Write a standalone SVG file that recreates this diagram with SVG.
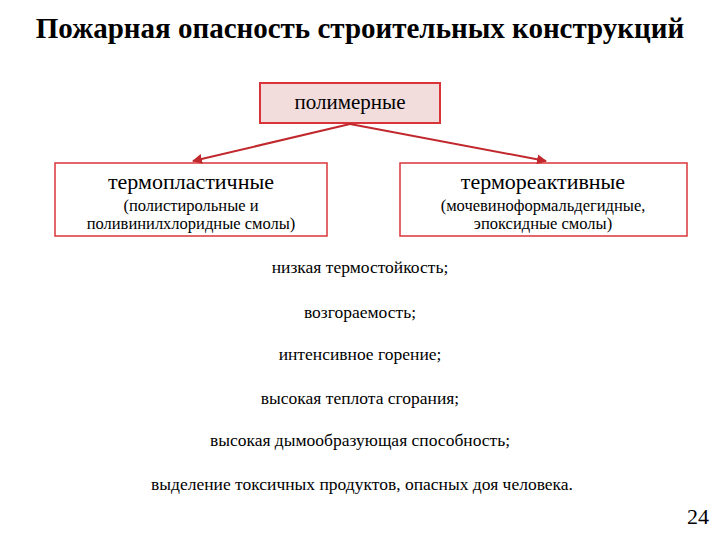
<svg xmlns="http://www.w3.org/2000/svg" width="720" height="540" viewBox="0 0 720 540" font-family="'Liberation Serif','Times New Roman',serif">
<defs>
<style>
text{font-family:"Liberation Serif","Times New Roman",serif;fill:#000;text-anchor:middle}
.box{fill:#fff;stroke:#d9343a;stroke-width:1.5}
.l{font-size:17.5px}
.s{font-size:16.5px}
.c{stroke:#c0282d;stroke-width:2;fill:none}
</style>
<marker id="a" viewBox="0 0 10 10" refX="9" refY="5" markerWidth="5" markerHeight="5" orient="auto"><path d="M0,0L10,5L0,10z" fill="#c0282d"/></marker>
</defs>
<rect width="720" height="540" fill="#fff"/>
<text x="360" y="38" font-size="29" font-weight="bold">Пожарная опасность строительных конструкций</text>
<g id="polymer"><rect x="260" y="83" width="180" height="40" fill="#f2dcdc" stroke="#d9343a" stroke-width="2"/><text x="350" y="109" font-size="21">полимерные</text></g>
<g id="thermoplastic"><rect class="box" x="55" y="163" width="272" height="73"/><text x="191" y="189" font-size="22">термопластичные</text><text x="191" y="211" class="s">(полистирольные и</text><text x="191" y="229" class="s">поливинилхлоридные смолы)</text></g>
<g id="thermoset"><rect class="box" x="400" y="163" width="287" height="73"/><text x="543" y="189" font-size="22">термореактивные</text><text x="543" y="211" class="s">(мочевиноформальдегидные,</text><text x="543" y="229" class="s">эпоксидные смолы)</text></g>
<g id="connectors"><path class="c" d="M350,124L193,161" marker-end="url(#a)"/><path class="c" d="M350,124L546,161" marker-end="url(#a)"/></g>
<g id="list">
<text x="360" y="273" class="l">низкая термостойкость;</text>
<text x="360" y="318" class="l">возгораемость;</text>
<text x="360" y="360" class="l">интенсивное горение;</text>
<text x="360" y="404" class="l">высокая теплота сгорания;</text>
<text x="360" y="446" class="l">высокая дымообразующая способность;</text>
<text x="362" y="490" class="l">выделение токсичных продуктов, опасных доя человека.</text>
</g>
<text x="698" y="524" font-size="22">24</text>
</svg>
